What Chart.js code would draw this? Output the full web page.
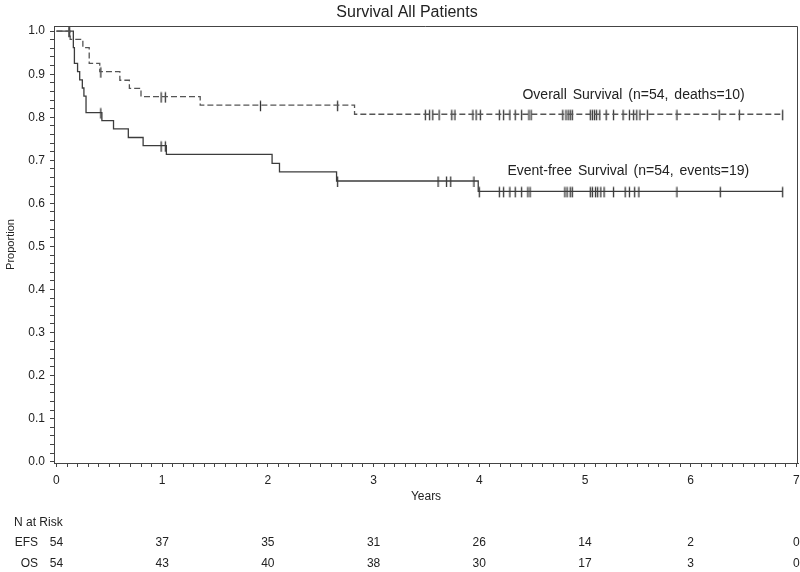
<!DOCTYPE html>
<html>
<head>
<meta charset="utf-8">
<title>Survival All Patients</title>
<script src="https://cdn.jsdelivr.net/npm/chart.js@4.4.1/dist/chart.umd.min.js"></script>
<style>
  html, body { margin: 0; padding: 0; background: #fff; }
</style>
</head>
<body>
<canvas id="km" width="800" height="572"></canvas>
<script>
// Kaplan-Meier steps: time (years) of each drop and the proportion after it
const efsTimes = [0, 0.16, 0.17, 0.20, 0.22, 0.245, 0.26, 0.28, 0.43, 0.54, 0.68, 0.82, 1.04, 2.04, 2.11, 2.65, 3.99];
const efsSurv  = [1, 0.962, 0.925, 0.906, 0.887, 0.868, 0.849, 0.811, 0.792, 0.773, 0.753, 0.734, 0.714, 0.693, 0.673, 0.652, 0.628];
const osTimes = [0, 0.13, 0.25, 0.31, 0.41, 0.60, 0.69, 0.80, 1.36, 2.82];
const osSurv  = [1, 0.981, 0.962, 0.925, 0.906, 0.886, 0.867, 0.848, 0.828, 0.807];

// censored observations (years)
const efsCensor = [0.12, 0.42, 0.99, 1.03, 2.66, 3.61, 3.69, 3.73, 3.95,
  4.00, 4.19, 4.23, 4.29, 4.34, 4.40, 4.46, 4.48, 4.81, 4.83, 4.86, 4.88,
  5.05, 5.07, 5.10, 5.12, 5.15, 5.18, 5.27, 5.38, 5.42, 5.47, 5.51, 5.87, 6.28, 6.87];
const osCensor = [0.12, 0.42, 0.99, 1.03, 1.93, 2.66, 3.49, 3.53, 3.56, 3.62, 3.74, 3.77, 3.94, 3.97,
  4.01, 4.19, 4.23, 4.29, 4.34, 4.40, 4.47, 4.49, 4.79, 4.82, 4.84, 4.86, 4.88,
  5.05, 5.07, 5.09, 5.11, 5.14, 5.20, 5.27, 5.36, 5.42, 5.46, 5.49, 5.52, 5.59, 5.87, 6.27, 6.46, 6.87];

// number at risk table
const riskTimes = [0, 1, 2, 3, 4, 5, 6, 7];
const efsRisk = [54, 37, 35, 31, 26, 14, 2, 0];
const osRisk  = [54, 43, 40, 38, 30, 17, 3, 0];

const osLabel = 'Overall Survival (n=54, deaths=10)';
const efsLabel = 'Event-free Survival (n=54, events=19)';

const FONT = '"Liberation Sans", Arial, Helvetica, sans-serif';
const solidGrey = '#3c3c3c';
const dashGrey = '#555';
const textCol = '#222';

// axis ticks: majors labelled, minors blank
const xTicks = [];
for (let i = 0; i <= 70; i++) xTicks.push(i / 10);
const yTicks = [];
for (let i = 0; i <= 50; i++) yTicks.push(i / 50);

function levelAt(times, surv, t) {
    let s = surv[0];
    times.forEach((tt, i) => { if (tt <= t) s = surv[i]; });
    return s;
}

function curve(times, surv, censor) {
    const pts = times.map((t, i) => ({ x: t, y: surv[i] }));
    pts.push({ x: Math.max(...censor), y: surv[surv.length - 1] });
    return pts;
}

function censorMark(color) {
    const c = document.createElement('canvas');
    c.width = 3; c.height = 14;
    const g = c.getContext('2d');
    g.strokeStyle = color;
    g.lineWidth = 1.3;
    g.beginPath();
    g.moveTo(1.5, 2.5);
    g.lineTo(1.5, 13);
    g.stroke();
    return c;
}

const isWhole = (v, f) => Math.abs(v * f - Math.round(v * f)) < 1e-6;

// --- plugins ---
const frame = {
    id: 'frame',
    afterDraw(chart) {
        const { ctx, chartArea: a } = chart;
        ctx.save();
        ctx.strokeStyle = '#444';
        ctx.lineWidth = 1;
        ctx.beginPath();
        ctx.moveTo(a.left, a.top + 0.5);
        ctx.lineTo(a.right - 0.5, a.top + 0.5);
        ctx.lineTo(a.right - 0.5, a.bottom);
        ctx.stroke();
        ctx.restore();
    }
};

const labels = {
    id: 'labels',
    afterDraw(chart) {
        const { ctx, scales: { x, y } } = chart;
        ctx.save();
        ctx.fillStyle = textCol;
        ctx.textBaseline = 'middle';
        ctx.textAlign = 'center';
        // title
        ctx.font = '16px ' + FONT;
        ctx.fillText('Survival All Patients', 407, 13);
        // curve labels
        ctx.font = '14px ' + FONT;
        if ('wordSpacing' in ctx) ctx.wordSpacing = '2px';
        ctx.fillText(osLabel, x.getPixelForValue(5.46), y.getPixelForValue(0.852));
        ctx.fillText(efsLabel, x.getPixelForValue(5.41), y.getPixelForValue(0.674));
        ctx.restore();
    }
};

const riskTable = {
    id: 'riskTable',
    afterDraw(chart) {
        const { ctx, scales: { x } } = chart;
        ctx.save();
        ctx.font = '12px ' + FONT;
        ctx.fillStyle = textCol;
        ctx.textBaseline = 'middle';
        ctx.textAlign = 'left';
        ctx.fillText('N at Risk', 14, 523);
        ctx.textAlign = 'right';
        ctx.fillText('EFS', 38, 543);
        ctx.fillText('OS', 38, 564);
        ctx.textAlign = 'center';
        riskTimes.forEach((t, i) => {
            const px = x.getPixelForValue(t);
            ctx.fillText(String(efsRisk[i]), px, 543);
            ctx.fillText(String(osRisk[i]), px, 564);
        });
        ctx.restore();
    }
};

new Chart(document.getElementById('km'), {
    type: 'line',
    data: {
        datasets: [
            {
                label: 'OS',
                data: curve(osTimes, osSurv, osCensor),
                stepped: true,
                borderColor: dashGrey,
                borderWidth: 1.3,
                borderDash: [6, 3],
                pointRadius: 0,
                fill: false
            },
            {
                label: 'EFS',
                data: curve(efsTimes, efsSurv, efsCensor),
                stepped: true,
                borderColor: solidGrey,
                borderWidth: 1.3,
                pointRadius: 0,
                fill: false
            },
            {
                type: 'scatter',
                label: 'OS censored',
                data: osCensor.map(t => ({ x: t, y: levelAt(osTimes, osSurv, t) })),
                pointStyle: censorMark('#333'),
                pointRadius: 5,
                showLine: false
            },
            {
                type: 'scatter',
                label: 'EFS censored',
                data: efsCensor.map(t => ({ x: t, y: levelAt(efsTimes, efsSurv, t) })),
                pointStyle: censorMark('#333'),
                pointRadius: 5,
                showLine: false
            }
        ]
    },
    options: {
        responsive: false,
        animation: false,
        events: [],
        layout: { autoPadding: false, padding: { top: 26, right: 2, bottom: 60, left: 0 } },
        plugins: {
            legend: { display: false },
            tooltip: { enabled: false },
            title: { display: false }
        },
        scales: {
            x: {
                type: 'linear',
                min: -0.023,
                max: 7.015,
                afterBuildTicks: s => { s.ticks = xTicks.map(v => ({ value: v })); },
                afterFit: s => { s.height = 49; s.paddingLeft = 0; s.paddingRight = 0; },
                ticks: {
                    autoSkip: false,
                    maxRotation: 0,
                    padding: 6,
                    color: textCol,
                    font: { family: FONT, size: 12 },
                    callback: v => isWhole(v, 1) ? String(Math.round(v)) : ''
                },
                grid: { drawOnChartArea: false, drawTicks: true, tickLength: 4, color: '#444' },
                border: { color: '#444', width: 1 },
                title: {
                    display: true,
                    text: 'Years',
                    color: textCol,
                    font: { family: FONT, size: 12 },
                    padding: { top: 0, bottom: 8 }
                }
            },
            y: {
                type: 'linear',
                min: -0.003,
                max: 1.012,
                afterBuildTicks: s => { s.ticks = yTicks.map(v => ({ value: v })); },
                afterFit: s => { s.width = 54; },
                ticks: {
                    autoSkip: false,
                    padding: 5,
                    color: textCol,
                    font: { family: FONT, size: 12 },
                    callback: v => isWhole(v, 10) ? v.toFixed(1) : ''
                },
                grid: { drawOnChartArea: false, drawTicks: true, tickLength: 4, color: '#444' },
                border: { color: '#444', width: 1 },
                title: {
                    display: true,
                    text: 'Proportion',
                    color: textCol,
                    font: { family: FONT, size: 11 },
                    padding: { top: 4, bottom: 0 }
                }
            }
        }
    },
    plugins: [frame, labels, riskTable]
});
</script>
</body>
</html>
